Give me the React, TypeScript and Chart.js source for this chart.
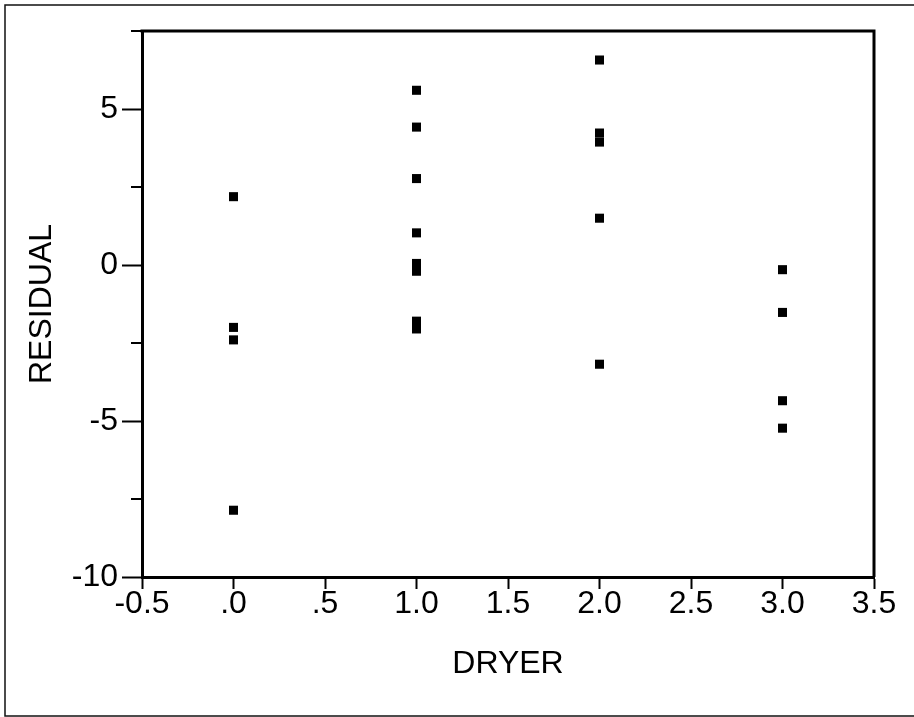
import React, { useEffect, useRef } from 'react';
import { Chart, registerables } from 'chart.js';

Chart.register(...registerables);

// ---- data ----
const dryerLevels = [0, 1, 2, 3];
const residualsDryer0 = [2.19, -2.0, -2.4, -7.86];
const residualsDryer1 = [5.6, 4.42, 2.77, 1.03, 0.05, -0.2, -1.8, -2.05];
const residualsDryer2 = [6.57, 4.23, 3.94, 1.5, -3.18];
const residualsDryer3 = [-0.15, -1.52, -4.35, -5.23];
const residualGroups = [residualsDryer0, residualsDryer1, residualsDryer2, residualsDryer3];

const xTickValues = [-0.5, 0, 0.5, 1, 1.5, 2, 2.5, 3, 3.5];
const xTickLabels = ['-0.5', '.0', '.5', '1.0', '1.5', '2.0', '2.5', '3.0', '3.5'];
const yTickValues = [-10, -7.5, -5, -2.5, 0, 2.5, 5, 7.5];
const yTickLabels = ['-10', '', '-5', '', '0', '', '5', ''];

const xTitle = 'DRYER';
const yTitle = 'RESIDUAL';

const FONT = '"Liberation Sans", Arial, Helvetica, sans-serif';
const FONT_SIZE = 32;

const framePlugin = {
  id: 'frame',
  afterDraw(chart: any) {
    const { ctx, chartArea: a } = chart;
    ctx.save();
    ctx.strokeStyle = '#000';
    ctx.lineWidth = 3;
    ctx.beginPath();
    ctx.moveTo(a.left - 1.5, a.top);
    ctx.lineTo(a.right, a.top);
    ctx.lineTo(a.right, a.bottom);
    ctx.stroke();

    // minor y ticks (shorter)
    const ys = chart.scales.y;
    ctx.lineWidth = 2;
    ctx.beginPath();
    yTickValues.forEach((v, i) => {
      if (yTickLabels[i] === '') {
        const py = Math.round(ys.getPixelForValue(v));
        ctx.moveTo(a.left - 11, py);
        ctx.lineTo(a.left, py);
      }
    });
    ctx.stroke();

    // outer figure border
    ctx.lineWidth = 1.5;
    ctx.strokeStyle = '#111';
    ctx.strokeRect(5, 5, 940, 711);
    ctx.restore();
  },
};

export default function App() {
  const ref = useRef<HTMLCanvasElement | null>(null);

  useEffect(() => {
    if (!ref.current) return;
    const points: { x: number; y: number }[] = [];
    dryerLevels.forEach((d, i) => {
      residualGroups[i].forEach((r) => points.push({ x: d, y: r }));
    });

    const chart = new Chart(ref.current, {
      type: 'scatter',
      data: {
        datasets: [
          {
            data: points,
            pointStyle: 'rect',
            pointRadius: 6.4,
            pointHoverRadius: 6.4,
            borderWidth: 0,
            backgroundColor: '#000',
            borderColor: '#000',
          },
        ],
      },
      options: {
        animation: false,
        responsive: false,
        devicePixelRatio: 1,
        layout: { padding: { left: 0, top: 31, right: 40, bottom: 0 } },
        plugins: {
          legend: { display: false },
          tooltip: { enabled: false },
          title: { display: false },
        },
        scales: {
          x: {
            type: 'linear',
            min: -0.5,
            max: 3.5,
            afterBuildTicks: (scale: any) => {
              scale.ticks = xTickValues.map((v) => ({ value: v }));
            },
            afterFit: (scale: any) => {
              scale.height = 140;
            },
            grid: {
              display: true,
              drawOnChartArea: false,
              drawTicks: true,
              tickLength: 12,
              tickWidth: 2,
              tickColor: '#000',
            },
            border: { display: true, color: '#000', width: 3 },
            ticks: {
              autoSkip: false,
              maxRotation: 0,
              padding: -4,
              color: '#000',
              font: { family: FONT, size: FONT_SIZE },
              callback: (_v: any, i: number) => xTickLabels[i],
            },
            title: {
              display: true,
              text: xTitle,
              color: '#000',
              font: { family: FONT, size: FONT_SIZE },
              padding: { top: 0, bottom: 34 },
            },
          },
          y: {
            type: 'linear',
            min: -10,
            max: 7.5,
            afterBuildTicks: (scale: any) => {
              scale.ticks = yTickValues.map((v) => ({ value: v }));
            },
            afterFit: (scale: any) => {
              scale.width = 142;
            },
            grid: {
              display: true,
              drawOnChartArea: false,
              drawTicks: true,
              tickLength: 20,
              tickWidth: 2,
              tickColor: (ctx: any) =>
                yTickLabels[ctx.index] === '' ? 'rgba(0,0,0,0)' : '#000',
            },
            border: { display: true, color: '#000', width: 3 },
            ticks: {
              autoSkip: false,
              padding: 4,
              color: '#000',
              font: { family: FONT, size: FONT_SIZE },
              callback: (_v: any, i: number) => yTickLabels[i],
            },
            title: {
              display: true,
              text: yTitle,
              color: '#000',
              font: { family: FONT, size: FONT_SIZE },
              padding: { top: 23, bottom: 0 },
            },
          },
        },
      },
      plugins: [framePlugin],
    });
    return () => chart.destroy();
  }, []);

  return (
    <div
      style={{
        position: 'fixed',
        left: 0,
        top: 0,
        width: 914,
        height: 717,
        background: '#fff',
      }}
    >
      <canvas ref={ref} width={914} height={717} style={{ display: 'block' }} />
    </div>
  );
}
